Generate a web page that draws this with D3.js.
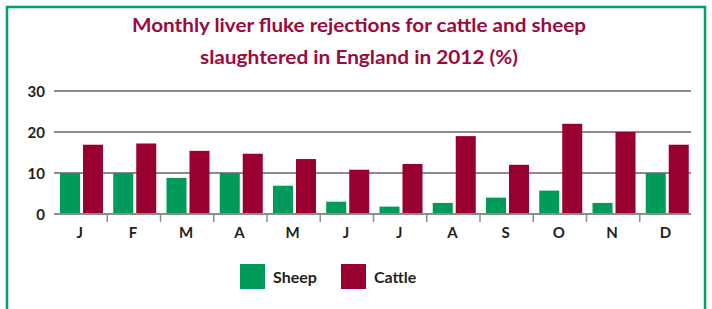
<!DOCTYPE html>
<html>
<head>
<meta charset="utf-8">
<script src="https://cdn.jsdelivr.net/npm/d3@7"></script>
<style>
  body { margin: 0; background: #fff; }
  svg { display: block; font-family: Lato, "DejaVu Sans", sans-serif; }
</style>
</head>
<body>
<div id="chart"></div>
<script>
var months = ["J", "F", "M", "A", "M", "J", "J", "A", "S", "O", "N", "D"];
var series = ["Sheep", "Cattle"];
var sheep = [10, 10, 8.8, 10, 6.9, 3, 1.8, 2.7, 4, 5.7, 2.7, 10];
var cattle = [16.9, 17.2, 15.4, 14.7, 13.4, 10.8, 12.2, 19, 12, 22, 20, 16.9];
var yTicks = [0, 10, 20, 30];
var titleLines = ["Monthly liver fluke rejections for cattle and sheep",
                  "slaughtered in England in 2012 (%)"];
var titleWidths = [454, 318];

var width = 712, height = 309;
var colors = { Sheep: "#009a5a", Cattle: "#98002f" };

var svg = d3.select("#chart").append("svg")
    .attr("width", width)
    .attr("height", height);

// green frame (bottom edge falls outside the picture)
svg.append("rect")
    .attr("x", 7).attr("y", 7)
    .attr("width", 698).attr("height", 320)
    .attr("fill", "none")
    .attr("stroke", "#00a05e")
    .attr("stroke-width", 2.5);

svg.selectAll("text.title")
    .data(titleLines)
    .enter().append("text")
    .attr("class", "title")
    .attr("x", 359)
    .attr("y", (d, i) => 32 + i * 32)
    .attr("text-anchor", "middle")
    .attr("textLength", (d, i) => titleWidths[i])
    .attr("lengthAdjust", "spacingAndGlyphs")
    .attr("fill", "#9c0a3c")
    .style("font-size", "19.5px")
    .style("font-weight", "bold")
    .text(d => d);

var x = d3.scaleBand()
    .domain(d3.range(months.length))
    .range([54, 693]);

var x1 = d3.scaleBand()
    .domain(series)
    .range([6, 49])
    .paddingInner(0.13);

var y = d3.scaleLinear()
    .domain([0, 30])
    .range([214, 91]);

// gridlines
svg.append("g")
    .selectAll("line")
    .data(yTicks)
    .enter().append("line")
    .attr("x1", 54).attr("x2", 691)
    .attr("y1", d => y(d)).attr("y2", d => y(d))
    .attr("stroke", "#8c8c8c")
    .attr("stroke-width", 1.8);

svg.append("g")
    .selectAll("text")
    .data(yTicks)
    .enter().append("text")
    .attr("x", 45)
    .attr("y", d => y(d) + 5.5)
    .attr("text-anchor", "end")
    .attr("fill", "#231f20")
    .style("font-size", "15px")
    .style("font-weight", "bold")
    .text(d => d);

// category separators under the baseline
svg.append("g")
    .selectAll("line")
    .data(d3.range(1, months.length))
    .enter().append("line")
    .attr("x1", d => x(d)).attr("x2", d => x(d))
    .attr("y1", y(0)).attr("y2", y(0) + 8)
    .attr("stroke", "#8c8c8c")
    .attr("stroke-width", 1.5);

var rows = months.map((m, i) => ({ i: i, Sheep: sheep[i], Cattle: cattle[i] }));

var groups = svg.append("g")
    .selectAll("g")
    .data(rows)
    .enter().append("g")
    .attr("transform", d => `translate(${x(d.i)},0)`);

groups.selectAll("rect")
    .data(d => series.map(s => ({ key: s, value: d[s] })))
    .enter().append("rect")
    .attr("x", d => x1(d.key))
    .attr("width", x1.bandwidth())
    .attr("y", d => y(d.value))
    .attr("height", d => y(0) - y(d.value) - 1)
    .attr("fill", d => colors[d.key]);

svg.append("g")
    .selectAll("text")
    .data(months)
    .enter().append("text")
    .attr("x", (d, i) => x(i) + x.bandwidth() / 2 - 1)
    .attr("y", 238)
    .attr("text-anchor", "middle")
    .attr("fill", "#231f20")
    .style("font-size", "15px")
    .style("font-weight", "bold")
    .text(d => d);

// legend
var legend = svg.append("g")
    .selectAll("g")
    .data(series)
    .enter().append("g")
    .attr("transform", (d, i) => `translate(${240 + i * 101},264)`);

legend.append("rect")
    .attr("width", 25).attr("height", 25)
    .attr("fill", d => colors[d]);

legend.append("text")
    .attr("x", 33)
    .attr("y", 19)
    .attr("fill", "#231f20")
    .style("font-size", "16px")
    .style("font-weight", "bold")
    .text(d => d);
</script>
</body>
</html>
